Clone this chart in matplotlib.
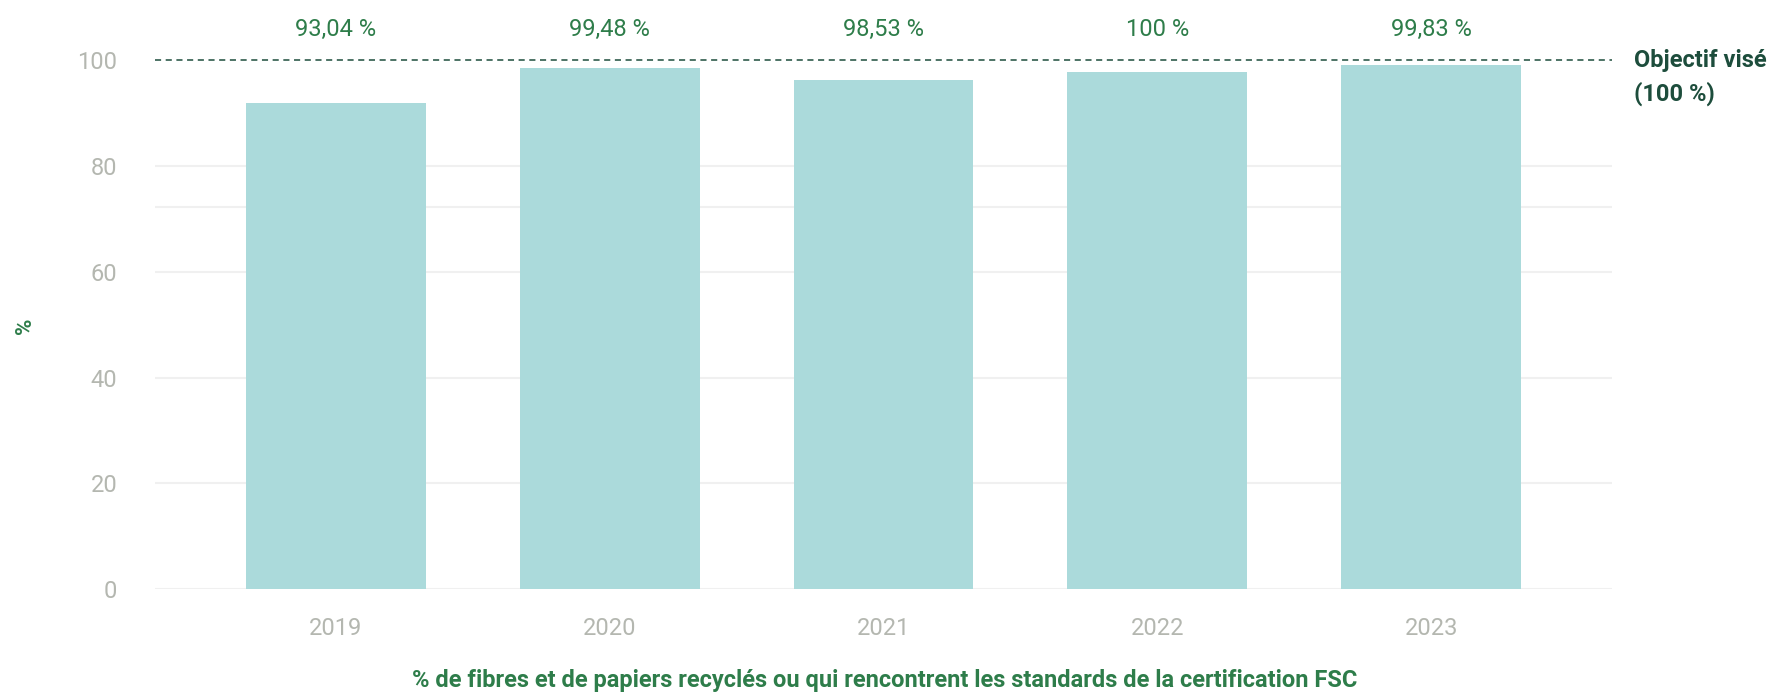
import matplotlib
matplotlib.use("Agg")
import matplotlib.pyplot as plt
import matplotlib.transforms as mtransforms

# Data
years = ['2019', '2020', '2021', '2022', '2023']
bar_values = [92.0, 98.5, 96.2, 97.7, 99.2]
value_labels = ['93,04 %', '99,48 %', '98,53 %', '100 %', '99,83 %']
target = 100
extra_grid = 72.2

bar_color = '#abdadb'
green = '#2e7d4a'
dark_green = '#1d4d3c'
grey = '#b4b7b0'
grid_color = '#f0f0f0'

plt.rcParams['font.family'] = ['Roboto', 'DejaVu Sans']

fig = plt.figure(figsize=(17.73, 6.92), dpi=100)
ax = fig.add_axes([0.0874, 0.1488, 0.8218, 0.7641])

x = range(len(years))
ax.bar(x, bar_values, width=0.657, color=bar_color, zorder=2)

ax.set_xlim(-0.66, 4.66)
ax.set_ylim(0, 100)
ax.set_yticks([0, 20, 40, 60, 80, 100])
ax.set_xticks(list(x))
ax.set_xticklabels(years)

# grid
for v in [0, 20, 40, 60, 80, extra_grid]:
    ax.axhline(v, color=grid_color, lw=1.5, zorder=1)
ax.axhline(target, color=dark_green, lw=1.1, ls=(0, (4, 3)), zorder=3, clip_on=False)

for s in ax.spines.values():
    s.set_visible(False)
ax.tick_params(axis='both', length=0, colors=grey, labelsize=17)
ax.tick_params(axis='x', pad=20)
ax.tick_params(axis='y', pad=27)

# value labels above the plot
trans = mtransforms.blended_transform_factory(ax.transData, ax.transAxes)
for xi, lab in zip(x, value_labels):
    ax.text(xi, 1.058, lab, transform=trans, ha='center', va='center',
            fontsize=17, color=green, clip_on=False)

# target label
fig.text(0.9216, 1 - 61 / 692, 'Objectif visé', fontsize=17, fontweight='bold',
         color=dark_green, ha='left', va='center')
fig.text(0.9216, 1 - 94 / 692, '(100 %)', fontsize=17, fontweight='bold',
         color=dark_green, ha='left', va='center')

fig.text(25 / 1773, 1 - 326 / 692, '%', rotation=90, fontsize=16, fontweight='bold',
         color=green, ha='center', va='center')
fig.text(0.499, 1 - 680 / 692,
         '% de fibres et de papiers recyclés ou qui rencontrent les standards de la certification FSC',
         fontsize=17, fontweight='bold', color=green, ha='center', va='center')

fig.savefig('out.png', dpi=100, facecolor='white')
plt.close(fig)
